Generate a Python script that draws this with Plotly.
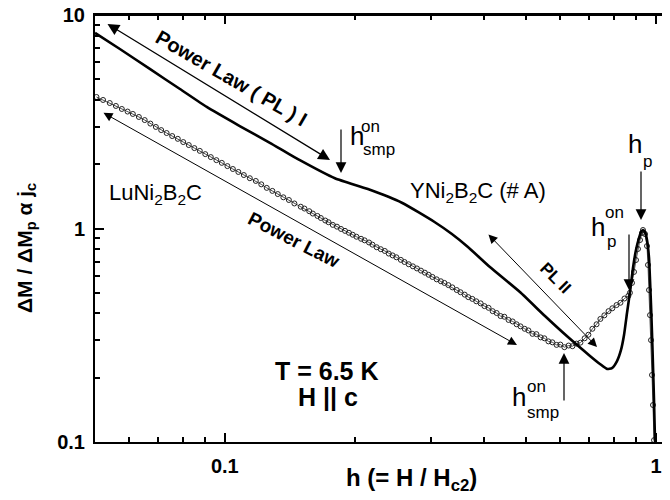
import math
import plotly.graph_objects as go

# ---------------- data ----------------
h_Y = [0.0500, 0.0571, 0.0670, 0.0787, 0.0908, 0.1083, 0.1272, 0.1493, 0.1800, 0.2147,
       0.2574, 0.3071, 0.3362, 0.3663, 0.4119, 0.4835, 0.5527, 0.6249, 0.7029, 0.7413,
       0.7698, 0.7904, 0.8120, 0.8295, 0.8430, 0.8565, 0.8702, 0.8843, 0.8986, 0.9133,
       0.9231, 0.9328, 0.9430, 0.9530, 0.9634, 0.9685, 0.9737, 0.9788, 0.9840, 0.9894,
       0.9947, 1.0000]
m_Y = [8.24, 6.93, 5.59, 4.50, 3.71, 3.02, 2.52, 2.09, 1.72, 1.53,
       1.32, 1.07, 0.942, 0.819, 0.660, 0.504, 0.389, 0.310, 0.253, 0.232,
       0.220, 0.222, 0.2395, 0.270, 0.317, 0.402, 0.504, 0.653, 0.793, 0.903,
       0.963, 0.984, 0.963, 0.883, 0.727, 0.574, 0.438, 0.324, 0.229, 0.157,
       0.102, 0.085]

h_Lu = [0.0504, 0.0522, 0.0541, 0.0559, 0.0577, 0.0595, 0.0612, 0.0632, 0.0652, 0.0672,
        0.0692, 0.0712, 0.0733, 0.0755, 0.0778, 0.0801, 0.0825, 0.0850, 0.0875, 0.0901,
        0.0928, 0.0956, 0.0984, 0.1014, 0.1044, 0.1075, 0.1107, 0.1143, 0.1180, 0.1215,
        0.1251, 0.1289, 0.1327, 0.1367, 0.1408, 0.1450,
        0.150, 0.153, 0.157, 0.160, 0.164, 0.167, 0.171, 0.174, 0.178, 0.182,
        0.186, 0.190, 0.194, 0.198, 0.202, 0.207, 0.211, 0.216, 0.220, 0.225,
        0.230, 0.235, 0.240, 0.245, 0.250, 0.256, 0.261, 0.267, 0.273, 0.279,
        0.285, 0.291, 0.297, 0.303, 0.310, 0.317, 0.323, 0.330, 0.337, 0.345,
        0.352, 0.360, 0.367, 0.375, 0.383, 0.392, 0.400, 0.409, 0.418, 0.427,
        0.436, 0.445, 0.455, 0.465, 0.475, 0.485, 0.496, 0.506, 0.517, 0.528,
        0.540, 0.551, 0.563, 0.575, 0.588, 0.600, 0.613, 0.627, 0.640, 0.654,
        0.668, 0.683, 0.697, 0.712, 0.728, 0.743, 0.759, 0.776, 0.792, 0.810,
        0.827, 0.845, 0.863, 0.870,
        0.8796, 0.8892, 0.8986, 0.9082, 0.9182, 0.9279, 0.9328, 0.9430, 0.9530, 0.9581,
        0.9634, 0.9685, 0.9737, 0.9788, 0.9840, 0.9894]
m_Lu = [4.13, 4.00, 3.87, 3.75, 3.63, 3.53, 3.44, 3.33, 3.22, 3.10,
        2.99, 2.89, 2.80, 2.71, 2.63, 2.54, 2.46, 2.38, 2.31, 2.23,
        2.16, 2.09, 2.03, 1.96, 1.90, 1.84, 1.78, 1.72, 1.67, 1.61,
        1.55, 1.50, 1.45, 1.40, 1.36, 1.31,
        1.265, 1.24, 1.205, 1.175, 1.145, 1.12, 1.09, 1.07, 1.04, 1.02,
        0.995, 0.975, 0.955, 0.935, 0.915, 0.895, 0.88, 0.86, 0.84, 0.817,
        0.80, 0.785, 0.763, 0.748, 0.733, 0.713, 0.697, 0.68, 0.665, 0.65,
        0.635, 0.621, 0.607, 0.593, 0.578, 0.566, 0.556, 0.543, 0.530, 0.515,
        0.503, 0.490, 0.477, 0.468, 0.456, 0.446, 0.433, 0.425, 0.41, 0.402,
        0.389, 0.386, 0.373, 0.367, 0.356, 0.348, 0.339, 0.333, 0.321, 0.320,
        0.309, 0.306, 0.296, 0.293, 0.285, 0.286, 0.278, 0.283, 0.281, 0.289,
        0.292, 0.306, 0.318, 0.339, 0.356, 0.377, 0.392, 0.410, 0.423, 0.438,
        0.449, 0.470, 0.484, 0.500,
        0.556, 0.626, 0.712, 0.802, 0.883, 0.953, 0.984, 0.942, 0.828, 0.675,
        0.515, 0.393, 0.300, 0.206, 0.149, 0.102]

x_major_vals = [0.1, 1]
x_major_text = ["0.1", "1"]
x_minor_vals = [0.06, 0.07, 0.08, 0.09, 0.2, 0.3, 0.4, 0.5, 0.6, 0.7, 0.8, 0.9]
y_major_vals = [0.1, 1, 10]
y_major_text = ["0.1", "1", "10"]
y_minor_vals = [0.2, 0.3, 0.4, 0.5, 0.6, 0.7, 0.8, 0.9, 2, 3, 4, 5, 6, 7, 8, 9]

# ---------------- layout helpers ----------------
OFF = 8                     # page body margin of the html page
W, H = 665, 492             # right axis falls just outside the 670 px window, as in the reference
L, R, T, B = 95 - OFF, 0, 15 - OFF, 58
PW, PH = W - L - R, H - T - B
FONT = "Liberation Sans, Arial, sans-serif"


def PX(px):                 # page pixel -> paper fraction
    return (px - OFF - L) / PW


def PY(py):
    return (H - B - (py - OFF)) / PH


def label(px, py, text, size, bold=False, angle=0, xanchor="center", yanchor="middle"):
    return dict(xref="paper", yref="paper", x=PX(px), y=PY(py), text=text,
                showarrow=False, textangle=angle, xanchor=xanchor, yanchor=yanchor,
                font=dict(family=FONT, size=size, color="black",
                          weight="bold" if bold else "normal"))


def arrow(hx, hy, tx, ty, double=False, width=1.0, size=1.8):
    return dict(xref="paper", yref="paper", x=PX(hx), y=PY(hy),
                axref="pixel", ayref="pixel", ax=tx - hx, ay=ty - hy,
                text="", showarrow=True, arrowhead=2, arrowsize=size,
                arrowwidth=width, arrowcolor="black",
                arrowside="end+start" if double else "end",
                startarrowhead=2, startarrowsize=size, standoff=0, startstandoff=0)


fig = go.Figure()
fig.add_trace(go.Scatter(x=h_Lu, y=m_Lu, mode="lines+markers",
                         line=dict(color="#222222", width=0.8),
                         marker=dict(symbol="circle-open", size=5, color="#222222",
                                     line=dict(width=1, color="#222222")),
                         showlegend=False, hoverinfo="skip", cliponaxis=True))
fig.add_trace(go.Scatter(x=h_Y, y=m_Y, mode="lines",
                         line=dict(color="black", width=2.6, shape="spline", smoothing=0.5),
                         showlegend=False, hoverinfo="skip"))

tickfont = dict(family=FONT, size=20, color="black", weight="bold")

fig.update_layout(
    width=W, height=H, margin=dict(l=L, r=R, t=T, b=B, autoexpand=False),
    paper_bgcolor="white", plot_bgcolor="white",
    xaxis=dict(type="log", range=[math.log10(0.05), 0.0394],
               showline=True, linewidth=2, linecolor="black", mirror="ticks",
               ticks="inside", ticklen=9, tickwidth=1.5, tickcolor="black",
               tickmode="array", tickvals=x_major_vals, ticktext=x_major_text,
               tickfont=tickfont, ticklabelstandoff=5, ticklabeloverflow="allow",
               minor=dict(ticks="inside", ticklen=5, tickwidth=1.5, tickcolor="black",
                          tickmode="array", tickvals=x_minor_vals, showgrid=False),
               showgrid=False, zeroline=False),
    yaxis=dict(type="log", range=[-1, 1],
               showline=True, linewidth=2, linecolor="black", mirror="ticks",
               ticks="inside", ticklen=9, tickwidth=1.5, tickcolor="black",
               tickmode="array", tickvals=y_major_vals, ticktext=y_major_text,
               tickfont=tickfont, ticklabelstandoff=4, ticklabeloverflow="allow",
               minor=dict(ticks="inside", ticklen=5, tickwidth=1.5, tickcolor="black",
                          tickmode="array", tickvals=y_minor_vals, showgrid=False),
               showgrid=False, zeroline=False),
    shapes=[dict(type="line", xref="paper", yref="paper", x0=0, x1=1, y0=1, y1=1,
                 line=dict(color="black", width=2))],
)

ann = []
# axis titles
ann.append(label(411, 479, "h (= H / H<sub>c2</sub>)", 24, bold=True))
ann.append(label(26, 248, "ΔM / ΔM<sub>p</sub> α j<sub>c</sub>", 21, bold=True, angle=-90))
# power-law arrows and captions
ann.append(arrow(330, 160, 106, 23, double=True, width=1.3))
ann.append(label(231, 78, "Power Law ( PL ) I", 20, bold=True, angle=30))
ann.append(arrow(517, 345, 102, 112, double=True, width=1.0))
ann.append(label(293, 240, "Power Law", 19, bold=True, angle=27))
ann.append(arrow(597, 347, 487, 233, double=True, width=1.0))
ann.append(label(556, 278, "PL II", 17, bold=True, angle=45))
# sample names
ann.append(label(107, 194, "LuNi<sub>2</sub>B<sub>2</sub>C", 22, xanchor="left"))
ann.append(label(408, 192, "YNi<sub>2</sub>B<sub>2</sub>C (# A)", 22, xanchor="left"))
# conditions
ann.append(label(327, 371, "T = 6.5 K", 25, bold=True))
ann.append(label(328, 397, "H || c", 25, bold=True))
# h_smp^on (upper, YNi2B2C)
ann.append(arrow(341, 173, 341, 128, width=1.2))
ann.append(label(357, 136, "h", 26))
ann.append(label(370, 127, "on", 17))
ann.append(label(379, 149, "smp", 17))
# h_smp^on (lower, LuNi2B2C)
ann.append(arrow(564, 353, 564, 402, width=1.2))
ann.append(label(519, 397, "h", 26))
ann.append(label(536, 386, "on", 17))
ann.append(label(543, 412, "smp", 17))
# h_p
ann.append(arrow(641, 220, 641, 170, width=1.2))
ann.append(label(635, 144, "h", 26))
ann.append(label(647, 161, "p", 17))
# h_p^on
ann.append(arrow(629, 290, 629, 233, width=1.2))
ann.append(label(598, 227, "h", 26))
ann.append(label(614, 213, "on", 17))
ann.append(label(611, 242, "p", 17))

fig.update_layout(annotations=ann)
fig.write_html("out.html")
